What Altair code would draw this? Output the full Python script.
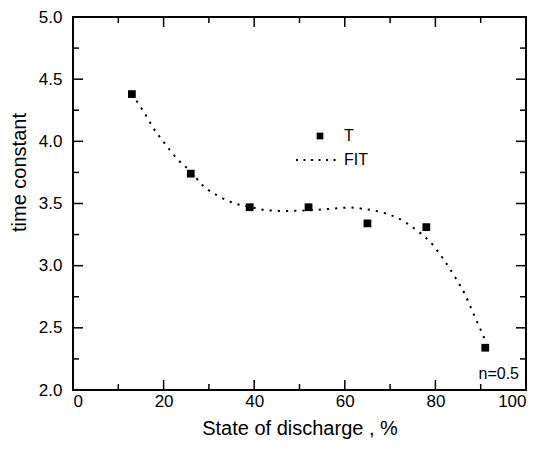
import altair as alt
import pandas as pd

# Measured data points
sod = [13, 26, 39, 52, 65, 78, 91]
tau = [4.38, 3.74, 3.47, 3.47, 3.34, 3.31, 2.34]

# Fit curve
fit_x = [13.0, 15.4, 17.7, 20.3, 23.2, 26.2, 28.5, 32.1, 35.8, 39.3, 43.0, 46.6,
         50.1, 55.6, 59.2, 61.0, 64.4, 68.1, 71.6, 75.3, 79.0, 82.0, 84.3, 86.5,
         88.2, 89.8, 91.0]
fit_y = [4.38, 4.25, 4.11, 3.98, 3.85, 3.75, 3.65, 3.56, 3.50, 3.47, 3.445, 3.44,
         3.442, 3.454, 3.464, 3.468, 3.455, 3.43, 3.385, 3.30, 3.185, 3.04, 2.91, 2.77,
         2.63, 2.50, 2.40]

x_major = [0, 20, 40, 60, 80, 100]
x_minor = [10, 30, 50, 70, 90]
y_major = [2.0, 2.5, 3.0, 3.5, 4.0, 4.5, 5.0]
y_minor = [2.25, 2.75, 3.25, 3.75, 4.25, 4.75]

legend_labels = ["T", "FIT"]
note = ["n=0.5"]

W, H = 453, 373
FONT = "Liberation Sans"

xs = alt.Scale(domain=[0, 100], nice=False)
ys = alt.Scale(domain=[2, 5], nice=False)

x_axis = alt.Axis(values=x_major, format="d", ticks=False, domain=False, grid=False,
                  labelFontSize=17, labelPadding=3, labelFont=FONT, labelColor="black",
                  title="State of discharge , %", titleFontSize=20, titleFont=FONT,
                  titleFontWeight="normal", titlePadding=9, titleColor="black")
y_axis = alt.Axis(values=y_major, format=".1f", ticks=False, domain=False, grid=False,
                  labelFontSize=17, labelPadding=11, labelFont=FONT, labelColor="black",
                  title="time constant", titleFontSize=20, titleFont=FONT,
                  titleFontWeight="normal", titleColor="black", titleY=155, titleX=-44)

pts_df = pd.DataFrame({"x": sod, "y": tau})
fit_df = pd.DataFrame({"x": fit_x, "y": fit_y})

fit = alt.Chart(fit_df).mark_line(color="black", strokeWidth=2, strokeDash=[2.2, 6],
                                  interpolate="monotone").encode(
    x=alt.X("x:Q", scale=xs, axis=x_axis),
    y=alt.Y("y:Q", scale=ys, axis=y_axis),
)
pts = alt.Chart(pts_df).mark_square(color="black", size=60, opacity=1).encode(
    x=alt.X("x:Q", scale=xs), y=alt.Y("y:Q", scale=ys))

def xticks(vals, length):
    df = pd.DataFrame({"x": vals})
    b = alt.Chart(df).mark_rule(color="black", strokeWidth=1.5).encode(
        x=alt.X("x:Q", scale=xs), y=alt.value(H), y2=alt.value(H - length))
    t = alt.Chart(df).mark_rule(color="black", strokeWidth=1.5).encode(
        x=alt.X("x:Q", scale=xs), y=alt.value(0), y2=alt.value(length))
    return [b, t]

def yticks(vals, length):
    df = pd.DataFrame({"y": vals})
    l = alt.Chart(df).mark_rule(color="black", strokeWidth=1.5).encode(
        y=alt.Y("y:Q", scale=ys), x=alt.value(0), x2=alt.value(length))
    r = alt.Chart(df).mark_rule(color="black", strokeWidth=1.5).encode(
        y=alt.Y("y:Q", scale=ys), x=alt.value(W), x2=alt.value(W - length))
    return [l, r]

ticks = xticks(x_major, 10) + xticks(x_minor, 6) + yticks(y_major, 10) + yticks(y_minor, 6)

leg_df = pd.DataFrame({"label": [legend_labels[0]]})
leg_sq = alt.Chart(leg_df).mark_square(color="black", size=45, opacity=1).encode(
    x=alt.value(247), y=alt.value(119))
leg_t = alt.Chart(leg_df).mark_text(align="left", baseline="middle", fontSize=16,
                                    font=FONT, color="black").encode(
    text="label:N", x=alt.value(271), y=alt.value(119))
leg_df2 = pd.DataFrame({"label": [legend_labels[1]]})
leg_line = alt.Chart(leg_df2).mark_rule(color="black", strokeWidth=1.8,
                                        strokeDash=[2, 5.5]).encode(
    x=alt.value(223), x2=alt.value(267), y=alt.value(143))
leg_f = alt.Chart(leg_df2).mark_text(align="left", baseline="middle", fontSize=16,
                                     font=FONT, color="black").encode(
    text="label:N", x=alt.value(271), y=alt.value(143))

note_df = pd.DataFrame({"label": note})
note_t = alt.Chart(note_df).mark_text(align="right", baseline="middle", fontSize=16,
                                      font=FONT, color="black").encode(
    text="label:N", x=alt.value(446), y=alt.value(357))

chart = alt.layer(fit, pts, *ticks, leg_sq, leg_t, leg_line, leg_f, note_t).properties(
    width=W, height=H,
    autosize=alt.AutoSizeParams(type="none"),
    padding={"left": 65, "top": 9, "right": 6, "bottom": 60},
    background="white",
).configure_view(stroke="black", strokeWidth=2)

chart.save("out.html", embed_options={"renderer": "svg", "actions": False})
